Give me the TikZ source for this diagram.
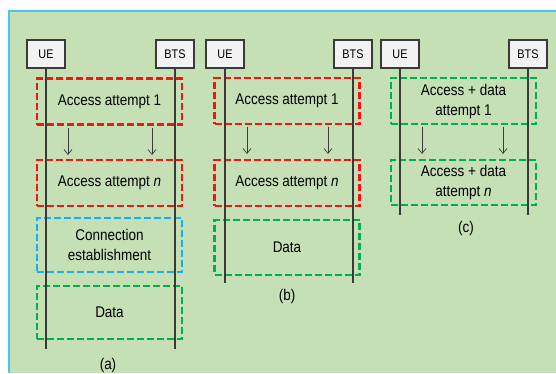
\documentclass[tikz,border=0pt]{standalone}
\usepackage{fontspec}
\setmainfont{Liberation Sans}[FakeStretch=0.87]
\usepackage{xcolor}
\usetikzlibrary{arrows.meta}
\definecolor{bggreen}{HTML}{C5E0B4}
\definecolor{edgeblue}{HTML}{4FC3F0}
\definecolor{dashred}{HTML}{FF1010}
\definecolor{dashgreen}{HTML}{00B050}
\definecolor{dashblue}{HTML}{18AEEF}
\definecolor{lifegray}{HTML}{3A3A3A}

\tikzset{
  entity/.style={draw=lifegray,line width=1.2pt,fill=white!95!black,
    minimum width=38pt,minimum height=28pt,inner sep=0pt,
    font=\fontsize{12.5}{14}\selectfont},
  phase/.style={draw=#1,line width=2.6pt,dash pattern=on 7pt off 3pt,
    minimum width=145pt,minimum height=46pt,inner sep=0pt,align=center,
    font=\fontsize{15.5}{20}\selectfont},
  life/.style={draw=lifegray,line width=1.1pt},
  arr/.style={draw=lifegray,line width=0.7pt,-{Straight Barb[length=5pt,width=8pt]}},
  caption/.style={font=\fontsize{15.5}{18}\selectfont}
}

\begin{document}
\begin{tikzpicture}[x=1pt,y=-1pt]
  \useasboundingbox (0,0) rectangle (556,373);
  \fill[bggreen] (9,11) rectangle (556,373);
  \draw[edgeblue,line width=2pt] (556,11)--(9,11)--(9,373);

  % (a)
  \node[entity] (ueA) at (46,54) {UE};
  \node[entity] (btsA) at (175,54) {BTS};
  \coordinate (ueAend) at (46,349);
  \coordinate (btsAend) at (175,349);
  \node[phase=dashred] (oneA) at (109.5,101.5) {Access attempt 1};
  \node[phase=dashred] (nA) at (109.5,183) {Access attempt \textit{n}};
  \node[phase=dashblue,minimum height=54pt] (connA) at (109.5,245) {Connection\\establishment};
  \node[phase=dashgreen,minimum height=53pt] (dataA) at (109.5,312.5) {Data};
  \draw[life] (ueA.south)--(ueAend);
  \draw[life] (btsA.south)--(btsAend);
  \coordinate (aA1) at (68,128);  \coordinate (aA2) at (68,155);
  \coordinate (aA3) at (152,128); \coordinate (aA4) at (152,155);
  \draw[arr] (aA1)--(aA2);
  \draw[arr] (aA3)--(aA4);
  \node[caption] (capA) at (108,365) {(a)};

  % (b)
  \node[entity] (ueB) at (225,54) {UE};
  \node[entity] (btsB) at (353,54) {BTS};
  \coordinate (ueBend) at (225,283);
  \coordinate (btsBend) at (353,283);
  \node[phase=dashred] (oneB) at (287,101) {Access attempt 1};
  \node[phase=dashred] (nB) at (287,183) {Access attempt \textit{n}};
  \node[phase=dashgreen,minimum height=55pt] (dataB) at (287,247.5) {Data};
  \draw[life] (ueB.south)--(ueBend);
  \draw[life] (btsB.south)--(btsBend);
  \coordinate (aB1) at (247,127); \coordinate (aB2) at (247,154);
  \coordinate (aB3) at (328,127); \coordinate (aB4) at (328,154);
  \draw[arr] (aB1)--(aB2);
  \draw[arr] (aB3)--(aB4);
  \node[caption] (capB) at (287,296) {(b)};

  % (c)
  \node[entity] (ueC) at (400,54) {UE};
  \node[entity] (btsC) at (528,54) {BTS};
  \coordinate (ueCend) at (400,215);
  \coordinate (btsCend) at (528,215);
  \node[phase=dashgreen] (oneC) at (463.5,101) {Access + data\\attempt 1};
  \node[phase=dashgreen,minimum height=45pt] (nC) at (463.5,182.5) {Access + data\\attempt \textit{n}};
  \draw[life] (ueC.south)--(ueCend);
  \draw[life] (btsC.south)--(btsCend);
  \coordinate (aC1) at (422,127); \coordinate (aC2) at (422,154);
  \coordinate (aC3) at (503,127); \coordinate (aC4) at (503,154);
  \draw[arr] (aC1)--(aC2);
  \draw[arr] (aC3)--(aC4);
  \node[caption] (capC) at (466,228) {(c)};
\end{tikzpicture}
\end{document}
